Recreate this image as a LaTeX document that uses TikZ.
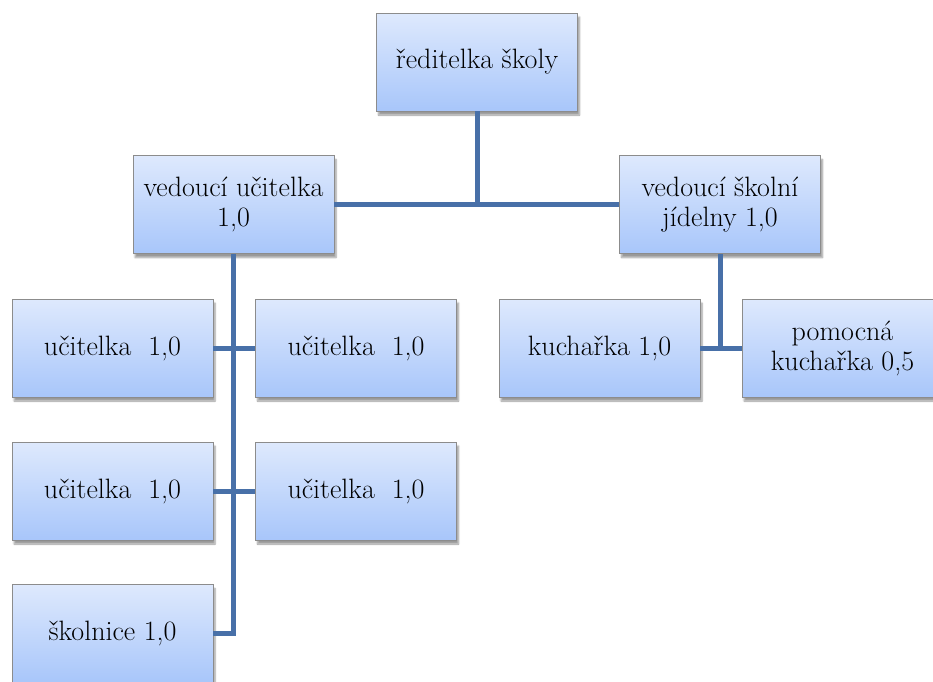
\documentclass[tikz,border=0pt]{standalone}
\usepackage{fontspec}
\usetikzlibrary{shadows.blur}
\definecolor{boxtop}{RGB}{222,233,253}
\definecolor{boxbot}{RGB}{168,198,250}
\definecolor{linkc}{RGB}{72,112,168}
\definecolor{boxline}{RGB}{140,140,140}
\tikzset{
  orgbox/.style={draw=boxline, line width=0.8pt, top color=boxtop, bottom color=boxbot,
    minimum width=201pt, minimum height=98pt, inner sep=0pt, align=center,
    font=\rmfamily\fontsize{28}{30}\selectfont,
    blur shadow={shadow xshift=2pt, shadow yshift=-4pt, shadow blur steps=6, shadow opacity=40}},
  link/.style={draw=linkc, line width=5pt, line join=miter}
}
\begin{document}
\begin{tikzpicture}[x=1pt,y=-1pt]
\useasboundingbox (0,0) rectangle (933,681);
\node[orgbox] (rs) at (477,62) {ředitelka školy};
\node[orgbox] (vu) at (233.5,204.5) {vedoucí učitelka\\1,0};
\node[orgbox] (vj) at (720,204.5) {vedoucí školní\\jídelny 1,0};
\node[orgbox] (u1) at (112.5,348) {učitelka\ \ 1,0};
\node[orgbox] (u2) at (356,348) {učitelka\ \ 1,0};
\node[orgbox] (k1) at (599.5,348) {kuchařka 1,0};
\node[orgbox] (k2) at (842.5,348) {pomocná\\kuchařka 0,5};
\node[orgbox] (u3) at (112.5,491) {učitelka\ \ 1,0};
\node[orgbox] (u4) at (356,491) {učitelka\ \ 1,0};
\node[orgbox] (sk) at (112.5,633.5) {školnice 1,0};
\path[link] (rs.south) -- (rs.south |- vu.east);
\path[link] (vu.east) -- (vj.west);
\path[link] (vu.south) |- (sk.east);
\path[link] (u1.east) -- (u2.west);
\path[link] (u3.east) -- (u4.west);
\path[link] (vj.south) -- (vj.south |- k1.east);
\path[link] (k1.east) -- (k2.west);
\end{tikzpicture}
\end{document}
